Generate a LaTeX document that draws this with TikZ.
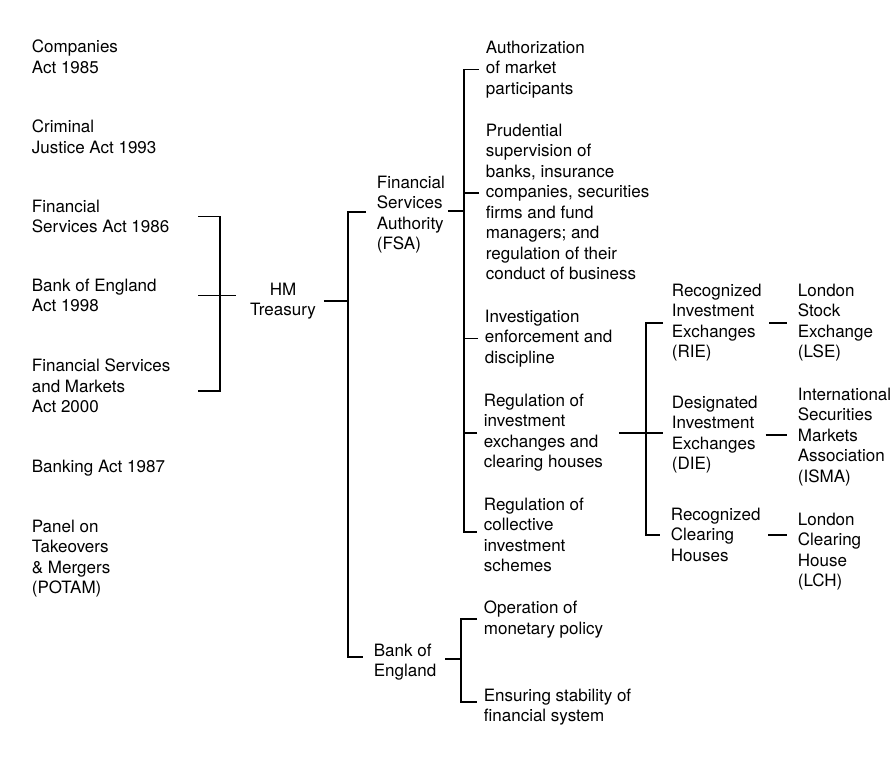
\documentclass[tikz,border=0pt]{standalone}
\usepackage{fontspec}
\setmainfont{TeX Gyre Heros}
\usetikzlibrary{calc}
\begin{document}
\begin{tikzpicture}[x=1pt,y=-1pt,line width=1.8pt,
  txt/.style={align=left,anchor=north west,inner sep=0pt,
    font=\fontsize{17}{20.5}\selectfont}]
\useasboundingbox (0,0) rectangle (894,758);
% acts
\node[txt] (ca85)  at (31,39)  {Companies\\Act 1985};
\node[txt] (cja93) at (31,119) {Criminal\\Justice Act 1993};
\node[txt] (fsa86) at (31,199) {Financial\\Services Act 1986};
\node[txt] (boe98) at (31,278) {Bank of England\\Act 1998};
\node[txt] (fsma)  at (31,358) {Financial Services\\and Markets\\Act 2000};
\node[txt] (ba87)  at (31,459) {Banking Act 1987};
\node[txt] (potam) at (31,519) {Panel on\\Takeovers\\\& Mergers\\(POTAM)};
% treasury and regulators
\node[txt,anchor=north,align=center] (hm) at (283,282) {HM\\Treasury};
\node[txt] (fsa) at (376,175) {Financial\\Services\\Authority\\(FSA)};
\node[txt] (boe) at (373,643) {Bank of\\England};
% tasks
\node[txt] (auth)   at (485,40)  {Authorization\\of market\\participants};
\node[txt] (prud)   at (485,123) {Prudential\\supervision of\\banks, insurance\\companies, securities\\firms and fund\\managers; and\\regulation of their\\conduct of business};
\node[txt] (invest) at (484,309) {Investigation\\enforcement and\\discipline};
\node[txt] (regex)  at (483,393) {Regulation of\\investment\\exchanges and\\clearing houses};
\node[txt] (regcis) at (483,497) {Regulation of\\collective\\investment\\schemes};
\node[txt] (monet)  at (483,600) {Operation of\\monetary policy};
\node[txt] (stab)   at (483,688) {Ensuring stability of\\financial system};
% exchanges
\node[txt] (rie)  at (671,283) {Recognized\\Investment\\Exchanges\\(RIE)};
\node[txt] (die)  at (671,395) {Designated\\Investment\\Exchanges\\(DIE)};
\node[txt] (rch)  at (670,507) {Recognized\\Clearing\\Houses};
\node[txt] (lse)  at (797,283) {London\\Stock\\Exchange\\(LSE)};
\node[txt] (isma) at (797,387) {International\\Securities\\Markets\\Association\\(ISMA)};
\node[txt] (lch)  at (797,512) {London\\Clearing\\House\\(LCH)};

% brackets
\coordinate (actx) at (198,0);
\coordinate (actspine) at (220,0);
\draw (actx |- fsa86.east) -| (actspine |- fsma.east) -- ++(0,5) -- ($(actx |- fsma.east)+(0,5)$);
\draw (actx |- boe98.east) -- ($(hm.west |- boe98.east)+(-13,0)$);

\draw ([xshift=7]hm.east) -- ([xshift=31]hm.east) coordinate (hmspine);
\draw ([xshift=-10,yshift=3]fsa.west) -| (hmspine) |- ([xshift=-10,yshift=5]boe.west);

\draw ([xshift=2,yshift=4]fsa.east) -- ([xshift=18,yshift=4]fsa.east) coordinate (fsaspine);
\draw ([xshift=-6]auth.west) -| (fsaspine) |- ([xshift=-6,yshift=3]regcis.west);
\draw ([xshift=-6,yshift=9]prud.west) coordinate (prudtick) -- (fsaspine |- prudtick);
\foreach \n in {invest,regex}
  \draw ([xshift=-6]\n.west) -- (fsaspine |- \n.west);

\draw ([xshift=8,yshift=3]boe.east) -- ([xshift=24,yshift=3]boe.east) coordinate (boespine);
\draw ([xshift=-6]monet.west) -| (boespine) |- ([xshift=-6,yshift=5]stab.west);

\draw ([xshift=15]regex.east) coordinate (regtick) -- ($(die.west |- regtick)+(-8,0)$);
\coordinate (exspine) at ([xshift=-25]die.west);
\draw ([xshift=-8]rie.west) -| (exspine) |- ([xshift=-10]rch.west);

\foreach \a/\b in {rie/lse,die/isma,rch/lch}
  \draw ([xshift=7]\a.east) -- ($(\a.east -| \b.west)+(-10,0)$);
\end{tikzpicture}
\end{document}
